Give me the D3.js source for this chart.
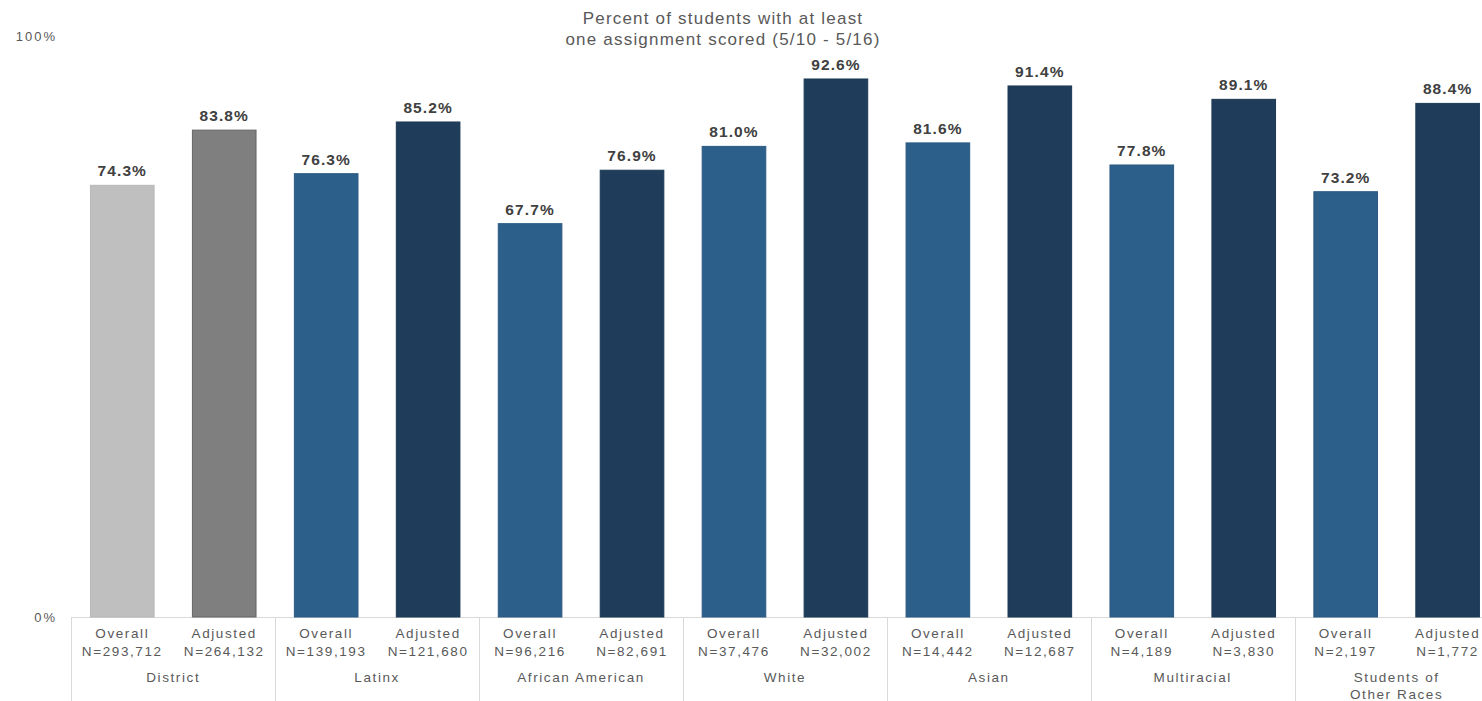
<!DOCTYPE html>
<html>
<head>
<meta charset="utf-8">
<script src="https://cdn.jsdelivr.net/npm/d3@7"></script>
<style>
  html, body { margin: 0; padding: 0; background: #ffffff; overflow: hidden; }
  svg { display: block; font-family: "Liberation Sans", Arial, sans-serif; }
</style>
</head>
<body>
<svg id="chart" width="1482" height="701"></svg>
<script>
// ---- Data ----
const groups = ["District", "Latinx", "African American", "White", "Asian", "Multiracial", "Students of Other Races"];
const groupLabelLines = [["District"], ["Latinx"], ["African American"], ["White"], ["Asian"], ["Multiracial"], ["Students of", "Other Races"]];
const measures = ["Overall", "Adjusted"];
const overallValues = [74.3, 76.3, 67.7, 81.0, 81.6, 77.8, 73.2];
const adjustedValues = [83.8, 85.2, 76.9, 92.6, 91.4, 89.1, 88.4];
const overallN = ["293,712", "139,193", "96,216", "37,476", "14,442", "4,189", "2,197"];
const adjustedN = ["264,132", "121,680", "82,691", "32,002", "12,687", "3,830", "1,772"];
const yTicks = [0, 100];
const titleLines = ["Percent of students with at least", "one assignment scored (5/10 - 5/16)"];

// ---- Build rows ----
const rows = [];
groups.forEach((g, i) => {
  rows.push({ group: g, gi: i, measure: "Overall", value: overallValues[i], n: overallN[i] });
  rows.push({ group: g, gi: i, measure: "Adjusted", value: adjustedValues[i], n: adjustedN[i] });
});

const colorFor = d => {
  if (d.gi === 0) return d.measure === "Overall" ? "#bfbfbf" : "#7f7f7f";
  return d.measure === "Overall" ? "#2c5f8a" : "#1f3d5a";
};
const strokeFor = d => {
  if (d.gi === 0) return d.measure === "Overall" ? "#b8b8b8" : "#666666";
  return d.measure === "Overall" ? "#2a5a83" : "#1c3954";
};

const svg = d3.select("#chart");
const left = 71.3, groupW = 203.9;
const x0 = d3.scaleBand().domain(groups).range([left, left + groupW * groups.length]).padding(0);
const x1 = d3.scaleBand().domain(measures).range([0, x0.bandwidth()]).paddingInner(0.376).paddingOuter(0.188);
const y = d3.scaleLinear().domain([0, 100]).range([617, 36]);

// Title
svg.append("g").selectAll("text").data(titleLines).join("text")
  .attr("x", 723).attr("y", (d, i) => 24 + i * 21)
  .attr("text-anchor", "middle")
  .attr("fill", "#595959")
  .style("font-size", "17px")
  .style("letter-spacing", "1.2px")
  .text(d => d);

// Y axis (labels only)
const yAxis = d3.axisLeft(y).tickValues(yTicks).tickSize(0).tickPadding(0).tickFormat(d => d + "%");
const yg = svg.append("g").attr("transform", "translate(57,0)").call(yAxis);
yg.select(".domain").remove();
yg.selectAll("text")
  .attr("fill", "#595959")
  .style("font-size", "13px")
  .style("letter-spacing", "2px")
  .style("font-family", "'Liberation Sans', Arial, sans-serif");

// Baseline
svg.append("line")
  .attr("x1", left).attr("x2", x0.range()[1])
  .attr("y1", y(0) + 0.5).attr("y2", y(0) + 0.5)
  .attr("stroke", "#d9d9d9").attr("stroke-width", 1);

// Group separators
svg.append("g").selectAll("line").data(groups).join("line")
  .attr("x1", d => Math.round(x0(d)) + 0.5).attr("x2", d => Math.round(x0(d)) + 0.5)
  .attr("y1", y(0)).attr("y2", 701)
  .attr("stroke", "#d9d9d9").attr("stroke-width", 1);

// Bars
const barG = svg.append("g");
barG.selectAll("rect").data(rows).join("rect")
  .attr("x", d => x0(d.group) + x1(d.measure))
  .attr("width", x1.bandwidth())
  .attr("y", d => y(d.value))
  .attr("height", d => y(0) - y(d.value))
  .attr("fill", colorFor)
  .attr("stroke", strokeFor)
  .attr("stroke-width", 1);

// Value labels
barG.selectAll("text.val").data(rows).join("text")
  .attr("class", "val")
  .attr("x", d => x0(d.group) + x1(d.measure) + x1.bandwidth() / 2)
  .attr("y", d => y(d.value) - 9)
  .attr("text-anchor", "middle")
  .attr("fill", "#404040")
  .style("font-size", "15.5px")
  .style("font-weight", "bold")
  .style("letter-spacing", "1.1px")
  .text(d => d.value.toFixed(1) + "%");

// Category labels (measure + N)
const catG = svg.append("g");
catG.selectAll("text.m").data(rows).join("text")
  .attr("class", "m")
  .attr("x", d => x0(d.group) + x1(d.measure) + x1.bandwidth() / 2)
  .attr("y", 638)
  .attr("text-anchor", "middle")
  .attr("fill", "#595959")
  .style("font-size", "13.5px")
  .style("letter-spacing", "1.6px")
  .text(d => d.measure);
catG.selectAll("text.n").data(rows).join("text")
  .attr("class", "n")
  .attr("x", d => x0(d.group) + x1(d.measure) + x1.bandwidth() / 2)
  .attr("y", 656)
  .attr("text-anchor", "middle")
  .attr("fill", "#595959")
  .style("font-size", "13.5px")
  .style("letter-spacing", "1.6px")
  .text(d => "N=" + d.n);

// Group labels
const gl = svg.append("g").selectAll("text").data(groups).join("text")
  .attr("x", d => x0(d) + x0.bandwidth() / 2)
  .attr("y", 682)
  .attr("text-anchor", "middle")
  .attr("fill", "#595959")
  .style("font-size", "13.5px")
  .style("letter-spacing", "1.6px");
gl.selectAll("tspan").data((d, i) => groupLabelLines[i].map(t => ({ t, cx: x0(d) + x0.bandwidth() / 2 }))).join("tspan")
  .attr("x", d => d.cx)
  .attr("dy", (d, i) => i === 0 ? 0 : 17)
  .text(d => d.t);
</script>
</body>
</html>
